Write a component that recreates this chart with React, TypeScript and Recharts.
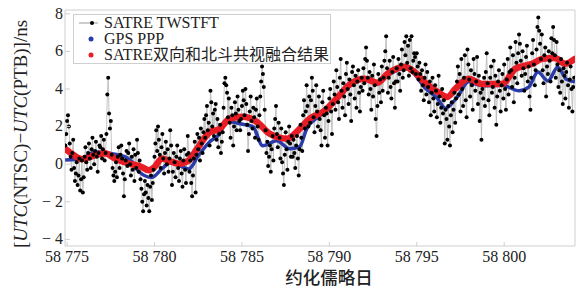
import { ComposedChart, Line, XAxis, YAxis, Legend, ReferenceArea } from 'recharts';

const SERIF = '"Liberation Serif", "Times New Roman", "Noto Sans CJK SC", serif';
const CJK = '"Noto Sans CJK SC", sans-serif';

const X_MIN = 58774.88;
const X_MAX = 58804.05;
const Y_MIN = -4.35;
const Y_MAX = 8.2;
const X_TICKS = [58775, 58780, 58785, 58790, 58795, 58800];
const Y_TICKS = [-4, -2, 0, 2, 4, 6, 8];

// SATRE TWSTFT, one value every 0.05 day starting at 58774.90
const TWSTFT_START = 58774.9;
const TWSTFT_STEP = 0.05;
const twstftValues = [
  1.0, 1.6, 2.3, 2.6, 2.0, 1.1, 0.4, -0.3, 0.6, 1.3, -0.2, -0.9, -0.5, 0.1, -1.1, -0.6, 0.3, -1.4, -0.8, 0.2,
  -1.5, -0.7, 0.4, 0.9, 0.1, -0.3, 0.6, 1.1, 0.3, -0.2, 0.8, 1.4, 0.5, 0.0, 0.7, 1.2, 0.4, -0.4, 0.6, 1.0,
  0.9, 1.5, 0.3, 0.8, 1.3, 0.2, 0.6, 1.6, 3.7, 4.6, 2.7, 1.9, 2.3, 0.5, -0.2, -0.6, -0.9, -0.4, 0.1, -0.7,
  0.4, 0.9, -0.2, 0.5, 1.0, 0.3, -0.5, -1.7, -0.8, 0.2, 0.7, -0.1, 0.6, 1.1, 0.0, -0.6, 0.4, -0.3, 0.8, -0.9,
  0.5, -0.2, 1.3, 0.6, -0.4, 0.2, -0.8, -1.3, -2.0, -2.5, -1.6, -0.9, -1.5, -2.2, -1.1, -1.8, -2.5, -1.2, -0.6, -1.9,
  -1.0, -0.3, 0.4, 1.1, 1.8, 0.7, 2.0, 1.3, 0.5, -0.2, 0.9, 1.6, 0.3, -0.5, 0.6, 1.2, 0.0, 0.8, -0.4, 0.3,
  1.8, 1.0, -1.1, -0.4, 0.6, 0.1, -0.7, 0.4, 1.0, -0.2, -0.9, 0.3, 0.7, -0.5, -1.2, 0.2, 0.8, -0.3, -1.0, 0.5,
  1.5, 0.6, -0.4, 0.2, -1.0, -1.7, -0.6, 0.3, 1.2, -1.5, 0.5, 1.6, 0.8, 1.4, 0.2, 1.9, 1.1, 0.6, 1.7, 2.4,
  1.4, 2.6, 3.1, 1.8, 2.2, 1.0, 3.9, 3.3, 2.0, 2.7, 1.5, 2.9, 3.2, 1.3, 2.4, 0.9, 1.6, 2.1, 0.6, 1.2,
  1.7, 3.0, 4.3, 4.6, 4.2, 3.8, 2.5, 3.5, 2.2, 1.4, 3.0, 2.6, 1.0, 2.0, 3.3, 2.7, 1.8, 3.6, 2.9, 2.3,
  1.8, 2.4, 3.1, 3.9, 3.4, 2.6, 4.0, 3.2, 2.1, 0.7, 1.6, 2.8, 3.6, 2.3, 1.9, 3.0, 2.5, 1.4, 2.9, 3.5,
  2.0, 1.3, 2.6, 3.6, 4.4, 5.2, 4.8, 4.1, 2.9, 1.8, 0.6, 1.2, -0.1, 0.4, 1.0, -0.4, 0.8, 1.5, 0.2, 1.9,
  2.4, 3.1, 1.6, 0.9, 2.2, 1.4, 0.3, 1.9, 0.1, -0.5, -1.1, 0.5, 1.7, 0.8, -0.3, 1.2, 2.0, 1.1, 0.4, 1.5,
  0.4, 1.3, 0.6, -0.2, 1.0, 1.5, 0.3, -0.6, 0.8, 2.1, 1.4, 0.7, 2.6, 3.4, 1.9, 2.8, 4.2, 3.1, 2.0, 3.6,
  2.2, 3.4, 4.6, 3.9, 2.5, 1.7, 3.1, 4.2, 2.8, 2.0, 3.6, 2.4, 1.8, 1.0, 3.3, 3.9, 2.6, 1.4, 3.0, 2.7,
  1.0, 2.3, 3.5, 4.0, 2.8, 1.6, 3.2, 4.4, 3.7, 2.9, 5.0, 4.1, 3.3, 2.4, 4.6, 5.6, 3.9, 3.0, 4.3, 3.6,
  2.6, 4.8, 5.4, 4.0, 3.2, 4.5, 3.7, 2.3, 4.9, 5.2, 4.2, 3.5, 4.7, 3.0, 4.4, 5.0, 3.8, 2.8, 4.1, 4.6,
  3.9, 5.1, 4.3, 5.6, 6.2, 5.5, 4.6, 3.7, 4.9, 4.0, 2.9, 4.7, 3.6, 5.3, 4.2, 2.4, 1.5, 3.1, 4.8, 3.8,
  4.5, 3.3, 5.2, 3.9, 4.6, 5.5, 6.0, 6.8, 5.1, 3.8, 4.6, 5.5, 4.1, 3.5, 4.9, 5.7, 4.3, 3.0, 4.4, 5.1,
  4.4, 5.6, 4.8, 3.9, 5.3, 6.1, 4.6, 5.0, 6.5, 5.8, 6.8, 5.4, 6.3, 4.7, 6.6, 5.1, 6.8, 4.9, 5.5, 5.9,
  5.7, 4.8, 5.9, 5.2, 4.5, 5.4, 4.8, 3.9, 5.0, 4.2, 3.4, 4.6, 5.3, 3.7, 4.9, 4.1, 3.3, 4.4, 2.6, 3.8,
  4.6, 3.5, 2.8, 4.2, 3.9, 2.5, 3.2, 4.7, 3.6, 2.2, 3.0, 4.0, 2.7, 3.4, 1.1, 2.9, 2.4, 1.3, 3.1, 2.0,
  1.0, 2.6, 3.3, 1.7, 2.9, 3.8, 2.2, 3.5, 4.4, 5.2, 3.7, 4.8, 2.8, 5.6, 4.0, 3.1, 4.6, 5.8, 3.4, 2.5,
  6.1, 5.3, 4.5, 3.6, 5.0, 4.2, 2.9, 5.6, 4.8, 3.9, 4.4, 5.7, 3.2, 4.7, 2.3, 3.8, 1.3, 4.0, 3.5, 4.6,
  3.1, 4.9, 5.9, 4.3, 3.4, 2.6, 4.6, 5.2, 3.8, 4.1, 5.5, 3.0, 4.7, 2.1, 3.6, 4.4, 5.0, 3.9, 2.8, 4.2,
  4.8, 3.5, 5.3, 4.0, 2.9, 4.5, 5.6, 3.7, 4.9, 6.2, 5.0, 4.1, 5.8, 3.3, 4.6, 6.5, 5.4, 4.3, 5.9, 6.9,
  6.4, 5.5, 4.7, 6.0, 5.1, 3.9, 4.8, 5.7, 6.3, 4.4, 5.2, 3.6, 2.9, 4.6, 5.9, 6.6, 5.3, 4.2, 5.0, 6.1,
  7.3, 7.8, 7.1, 6.4, 5.6, 6.9, 5.0, 4.3, 5.8, 6.2, 3.6, 5.2, 4.8, 6.0, 5.5, 4.4, 6.7, 5.9, 7.3, 6.6,
  5.8, 4.6, 6.5, 5.3, 4.1, 5.0, 3.8, 5.6, 4.4, 3.2, 5.1, 4.7, 3.5, 4.9, 5.4, 4.2, 3.0, 4.5, 5.2, 4.0,
  2.8, 4.1, 4.6,
];

// GPS PPP [MJD, ns]
const gpsPoints = [
  [58774.89, 0.22], [58775.86, 0.3], [58776.6, 0.66], [58777.57, 0.56], [58778.3, 0.4],
  [58778.71, 0.13], [58779.11, -0.4], [58779.85, -0.7], [58780.43, -0.24], [58781.0, 0.13],
  [58781.39, -0.05], [58781.96, -0.25], [58782.5, 0.45], [58783.16, 1.2], [58783.73, 1.62],
  [58784.13, 2.3], [58784.87, 2.15], [58785.62, 2.0], [58786.19, 0.98], [58786.99, 1.25],
  [58787.73, 0.82], [58788.3, 0.93], [58788.7, 1.88], [58789.44, 2.57], [58790.3, 3.3],
  [58791.21, 4.2], [58792.01, 4.5], [58792.75, 4.3], [58793.32, 4.7], [58794.29, 5.1],
  [58794.86, 4.8], [58795.43, 4.1], [58796.18, 3.5], [58796.63, 2.98], [58797.37, 3.64],
  [58797.95, 4.38], [58798.74, 4.17], [58799.89, 4.2], [58800.85, 3.9], [58801.4, 4.1],
  [58801.93, 4.9], [58802.5, 4.43], [58803.06, 5.15], [58803.58, 4.5], [58804.05, 4.38],
];

// SATRE + BDS common view fusion [MJD, ns]
const fusionPoints = [
  [58774.89, 0.82], [58775.35, 0.5], [58775.86, 0.27], [58776.5, 0.45], [58777.17, 0.58],
  [58777.74, 0.3], [58778.54, 0.03], [58779.2, -0.12], [58779.68, -0.32], [58780.0, -0.15],
  [58780.43, 0.3], [58780.9, 0.15], [58781.39, 0.03], [58781.96, 0.2], [58782.42, 0.8],
  [58783.16, 1.7], [58783.73, 1.88], [58784.3, 2.42], [58785.05, 2.52], [58785.84, 2.26],
  [58786.59, 1.62], [58787.1, 1.42], [58787.56, 1.35], [58788.3, 1.88], [58788.87, 2.42],
  [58789.73, 2.84], [58790.3, 3.37], [58791.21, 4.27], [58792.01, 4.54], [58792.75, 4.33],
  [58793.32, 4.8], [58794.29, 5.18], [58794.86, 4.91], [58795.43, 4.38], [58796.18, 3.85],
  [58796.75, 3.58], [58797.2, 4.0], [58797.95, 4.54], [58798.74, 4.27], [58799.89, 4.27],
  [58800.63, 5.07], [58801.6, 5.34], [58802.17, 5.6], [58802.91, 5.65], [58803.48, 5.34],
  [58804.05, 5.6],
];

const twstftData = twstftValues.map((v, i) => ({ d: TWSTFT_START + i * TWSTFT_STEP, v }));
const gpsData = gpsPoints.map(([d, v]) => ({ d, v }));
const fusionData = fusionPoints.map(([d, v]) => ({ d, v }));

const FRAME = '#cfcfcf';

function fmtMjd(v: number) {
  return `${Math.floor(v / 1000)} ${String(v % 1000).padStart(3, '0')}`;
}

function XTick({ x, y, payload }: any) {
  return (
    <g>
      <line x1={x} x2={x} y1={y} y2={y - 4} stroke={FRAME} />
      <text x={x} y={y + 15.5} textAnchor="middle" fontSize={16} fill="#222" style={{ fontFamily: SERIF }}>
        {fmtMjd(payload.value)}
      </text>
    </g>
  );
}

function YTick({ x, y, payload }: any) {
  const v = payload.value as number;
  const label = v < 0 ? `\u2212 ${Math.abs(v)}` : String(v);
  return (
    <g>
      <line x1={x} x2={x + 5} y1={y} y2={y} stroke={FRAME} />
      <text x={x - 2} y={y + 4.8} textAnchor="end" fontSize={16} fill="#222" style={{ fontFamily: SERIF }}>
        {label}
      </text>
    </g>
  );
}

function YLabel() {
  return (
    <text
      transform="translate(20,134) rotate(-90)"
      textAnchor="middle"
      dominantBaseline="central"
      fontSize={19}
      fill="#222"
      style={{ fontFamily: SERIF }}
    >
      [<tspan fontStyle="italic">UTC</tspan>(NTSC)−<tspan fontStyle="italic">UTC</tspan>(PTB)]/ns
    </text>
  );
}

function XLabel() {
  return (
    <text x={329} y={284} textAnchor="middle" fontSize={17.5} fill="#222" fontWeight={500} style={{ fontFamily: CJK }}>
      约化儒略日
    </text>
  );
}

function LegendBox() {
  const row = { display: 'flex', alignItems: 'center', height: 16, lineHeight: '16px' } as const;
  return (
    <div
      style={{
        border: `1px solid ${FRAME}`,
        background: '#fff',
        width: 256,
        height: 48,
        fontFamily: SERIF,
        fontSize: 16,
        color: '#222',
        whiteSpace: 'nowrap',
      }}
    >
      <div style={row}>
        <svg width={30} height={16}>
          <line x1={5} x2={24} y1={8} y2={8} stroke="#999" strokeWidth={1} />
          <circle cx={18} cy={8} r={2} fill="#000" />
        </svg>
        <span>SATRE TWSTFT</span>
      </div>
      <div style={row}>
        <svg width={30} height={16}>
          <circle cx={17} cy={8} r={2.5} fill="#2a3caa" />
        </svg>
        <span>GPS PPP</span>
      </div>
      <div style={row}>
        <svg width={30} height={16}>
          <circle cx={17} cy={8} r={2.5} fill="#e81c24" />
        </svg>
        <span>SATRE双向和北斗共视融合结果</span>
      </div>
    </div>
  );
}

export default function App() {
  return (
    <div style={{ position: 'absolute', left: 0, top: 0, width: 583, height: 289, background: '#fff' }}>
      <ComposedChart width={583} height={289} margin={{ top: 10, right: 8, bottom: 0, left: 0 }}>
        <XAxis
          type="number"
          dataKey="d"
          domain={[X_MIN, X_MAX]}
          ticks={X_TICKS}
          allowDataOverflow
          height={43}
          tickSize={0}
          tickMargin={0}
          tickLine={false}
          axisLine={false}
          tick={<XTick />}
          label={<XLabel />}
        />
        <YAxis
          type="number"
          domain={[Y_MIN, Y_MAX]}
          ticks={Y_TICKS}
          allowDataOverflow
          width={65}
          tickSize={0}
          tickMargin={0}
          tickLine={false}
          axisLine={false}
          tick={<YTick />}
          label={<YLabel />}
        />
        <ReferenceArea x1={X_MIN} x2={X_MAX} y1={Y_MIN} y2={Y_MAX} fill="none" stroke={FRAME} strokeWidth={1} />
        <Line
          data={twstftData}
          dataKey="v"
          name="SATRE TWSTFT"
          type="linear"
          stroke="#b5b5b5"
          strokeWidth={0.8}
          dot={{ r: 2, fill: '#000', stroke: 'none' }}
          isAnimationActive={false}
        />
        <Line
          data={gpsData}
          dataKey="v"
          name="GPS PPP"
          type="monotone"
          stroke="#2a3caa"
          strokeWidth={3.5}
          dot={false}
          isAnimationActive={false}
        />
        <Line
          data={fusionData}
          dataKey="v"
          name="SATRE双向和北斗共视融合结果"
          type="monotone"
          stroke="#e81c24"
          strokeWidth={6.5}
          strokeLinecap="round"
          dot={false}
          isAnimationActive={false}
        />
        <Legend
          layout="horizontal"
          align="center"
          verticalAlign="middle"
          content={<LegendBox />}
          wrapperStyle={{ left: 73, top: 14, width: 258, height: 50 }}
        />
      </ComposedChart>
    </div>
  );
}
